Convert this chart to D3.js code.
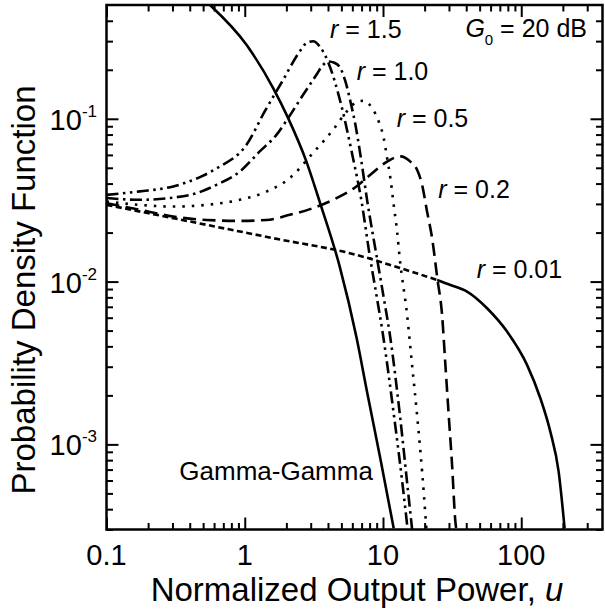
<!DOCTYPE html>
<html>
<head>
<meta charset="utf-8">
<script src="https://cdn.jsdelivr.net/npm/d3@7"></script>
<style>
  body { margin: 0; background: #fff; }
  text { font-family: "Liberation Sans", Arial, sans-serif; fill: #000; }
</style>
</head>
<body>
<script>
// Gamma-Gamma (solid)
var ggU = [0.558, 1.029, 1.605, 2.06, 2.793, 3.485, 4.863, 6.423, 7.67, 9.58, 11.95];
var ggP = [0.502, 0.285, 0.1544, 0.101, 0.0546, 0.0309, 0.01237, 0.00457, 0.0021, 0.000814, 0.000305];

// r = 1.5 (dash-dot-dot)
var r15U = [0.1, 0.1741, 0.3036, 0.4783, 0.6424, 1.029, 1.395, 1.861, 2.499, 2.793, 3.123, 3.485, 4.003, 5.003, 5.998, 7.003, 8.001, 8.989, 10.0, 11.99, 14.0, 15.09];
var r15P = [0.0341, 0.0358, 0.0384, 0.044, 0.0502, 0.0692, 0.1109, 0.1688, 0.2593, 0.2919, 0.2995, 0.2782, 0.224, 0.1202, 0.0601, 0.0309, 0.01459, 0.00817, 0.0047, 0.001516, 0.000524, 0.000298];

// r = 1.0 (dash-dot)
var r10U = [0.1, 0.1741, 0.3036, 0.4474, 0.6243, 0.9203, 1.284, 1.695, 2.06, 2.644, 3.299, 3.645, 4.03, 4.452, 4.92, 5.348, 5.812, 6.317, 6.864, 7.708, 8.96, 10.07, 11.22, 13.25, 15.14, 16.23];
var r10P = [0.0326, 0.0318, 0.0328, 0.0349, 0.0393, 0.0474, 0.063, 0.0797, 0.101, 0.1404, 0.1864, 0.2118, 0.225, 0.2209, 0.2049, 0.1696, 0.1278, 0.0918, 0.0601, 0.0309, 0.01459, 0.00817, 0.0047, 0.001516, 0.000524, 0.000302];

// r = 0.5 (dotted)
var r05U = [0.1, 0.1741, 0.3036, 0.5285, 0.9203, 1.435, 2.116, 3.123, 4.358, 5.483, 6.497, 7.251, 8.341, 9.309, 10.12, 10.71, 11.31, 11.95, 12.65, 13.21, 14.94, 16.23, 17.64, 19.18, 20.59];
var r05P = [0.031, 0.0296, 0.0289, 0.0296, 0.0318, 0.0357, 0.0432, 0.0618, 0.0856, 0.1112, 0.1272, 0.129, 0.1164, 0.0963, 0.0761, 0.0573, 0.0432, 0.0296, 0.0203, 0.01393, 0.00624, 0.00308, 0.001516, 0.00068, 0.000305];

// r = 0.2 (dashed)
var r02U = [0.1, 0.1741, 0.3036, 0.5285, 0.9203, 1.435, 2.116, 3.123, 4.358, 6.077, 8.109, 10.71, 13.36, 15.78, 17.64, 19.18, 20.83, 22.65, 24.74, 26.75, 28.27, 29.87, 31.6, 33.38, 33.9];
var r02P = [0.0303, 0.0276, 0.0251, 0.0239, 0.0236, 0.0239, 0.0257, 0.0283, 0.0318, 0.0371, 0.0453, 0.0546, 0.0588, 0.0546, 0.0486, 0.0393, 0.0269, 0.0185, 0.01039, 0.00624, 0.00308, 0.001516, 0.000747, 0.000335, 0.0003];

// r = 0.01 (short dashes, then solid tail from u = 24.62)
var r001U = [0.1, 0.4002, 1.605, 6.423, 13.36, 24.62, 30.72, 40.56, 56.58, 78.96, 110.1, 137.5, 162.3, 186.4, 205.9];
var r001P = [0.0296, 0.0234, 0.01848, 0.01459, 0.01209, 0.01024, 0.00954, 0.00868, 0.00686, 0.00493, 0.00308, 0.00192, 0.001197, 0.00068, 0.000305];
var r001Break = 24.62;

// axis ticks
var xMajor = [0.1, 1, 10, 100];
var xMajorLabels = ["0.1", "1", "10", "100"];
var yMajor = [1e-3, 1e-2, 1e-1];
var yMajorExp = ["-3", "-2", "-1"];

var width = 605, height = 612;
var mLeft = 106.5, mRight = 602.5, mTop = 5, mBottom = 529.5;

var svg = d3.select("body").append("svg")
  .attr("width", width)
  .attr("height", height);

var x = d3.scaleLog().domain([0.1, 387]).range([mLeft, mRight]);
var y = d3.scaleLog().domain([3e-4, 0.5]).range([mBottom, mTop]);

// minor ticks 2..9 in each decade
var xMinor = [], yMinor = [];
[0.1, 1, 10, 100].forEach(function (d) {
  for (var k = 2; k <= 9; k++) if (d * k < 387) xMinor.push(d * k);
});
[1e-4, 1e-3, 1e-2, 1e-1].forEach(function (d) {
  for (var k = 2; k <= 9; k++) if (d * k > 3e-4 && d * k < 0.5) yMinor.push(d * k);
});

svg.append("clipPath").attr("id", "plotClip")
  .append("rect")
  .attr("x", mLeft).attr("y", mTop)
  .attr("width", mRight - mLeft).attr("height", mBottom - mTop);

// ticks, all pointing inward
function ticks(g, axis, vals, len) {
  g.call(axis.tickValues(vals).tickSize(-len).tickFormat(""));
  g.select(".domain").remove();
  g.selectAll(".tick line").attr("stroke", "#000").attr("stroke-width", 2);
}
[[xMajor, 12], [xMinor, 6.5]].forEach(function (t) {
  svg.append("g").attr("transform", "translate(0," + mBottom + ")").call(ticks, d3.axisBottom(x), t[0], t[1]);
  svg.append("g").attr("transform", "translate(0," + mTop + ")").call(ticks, d3.axisTop(x), t[0], t[1]);
});
[[yMajor, 12], [yMinor, 6.5]].forEach(function (t) {
  svg.append("g").attr("transform", "translate(" + mLeft + ",0)").call(ticks, d3.axisLeft(y), t[0], t[1]);
  svg.append("g").attr("transform", "translate(" + mRight + ",0)").call(ticks, d3.axisRight(y), t[0], t[1]);
});

// tick labels
svg.selectAll(".xlab")
  .data(xMajor)
  .enter()
  .append("text")
  .attr("class", "xlab")
  .attr("x", d => x(d))
  .attr("y", 565)
  .attr("text-anchor", "middle")
  .style("font-size", "29px")
  .text((d, i) => xMajorLabels[i]);

var ylab = svg.selectAll(".ylab")
  .data(yMajor)
  .enter()
  .append("text")
  .attr("class", "ylab")
  .attr("x", 97)
  .attr("y", d => y(d) + 11)
  .attr("text-anchor", "end")
  .style("font-size", "29px");
ylab.append("tspan").text("10");
ylab.append("tspan").attr("dy", -13).style("font-size", "17px").text((d, i) => yMajorExp[i]);

// curves
var line = d3.line()
  .x(d => x(d[0]))
  .y(d => y(d[1]))
  .curve(d3.curveMonotoneX);

function pairs(u, p) { return u.map((d, i) => [d, p[i]]); }

var r001 = pairs(r001U, r001P);
var curves = [
  { pts: pairs(ggU, ggP), dash: null },
  { pts: pairs(r15U, r15P), dash: "12,4.5,2.5,4.5,2.5,4.5" },
  { pts: pairs(r10U, r10P), dash: "12,4.5,2.5,4.5" },
  { pts: pairs(r05U, r05P), dash: "2.5,7" },
  { pts: pairs(r02U, r02P), dash: "13,6.5" },
  { pts: r001.filter(d => d[0] <= r001Break), dash: "6,3.5" },
  { pts: r001.filter(d => d[0] >= r001Break), dash: null }
];

var plot = svg.append("g").attr("clip-path", "url(#plotClip)");
plot.selectAll("path")
  .data(curves)
  .enter()
  .append("path")
  .attr("d", d => line(d.pts))
  .attr("fill", "none")
  .attr("stroke", "#000")
  .attr("stroke-width", 2.6)
  .attr("stroke-dasharray", d => d.dash);

// frame
svg.append("rect")
  .attr("x", mLeft).attr("y", mTop)
  .attr("width", mRight - mLeft).attr("height", mBottom - mTop)
  .attr("fill", "none")
  .attr("stroke", "#000")
  .attr("stroke-width", 2.5);

// curve labels
var rLabels = [
  { t: "1.5", x: 330, y: 38.3 },
  { t: "1.0", x: 356.7, y: 80 },
  { t: "0.5", x: 396.7, y: 126.7 },
  { t: "0.2", x: 438.3, y: 198.3 },
  { t: "0.01", x: 476.7, y: 278.3 }
];
var rl = svg.selectAll(".rlab")
  .data(rLabels)
  .enter()
  .append("text")
  .attr("class", "rlab")
  .attr("x", d => d.x)
  .attr("y", d => d.y)
  .style("font-size", "25px");
rl.append("tspan").style("font-style", "italic").text("r");
rl.append("tspan").text(d => " = " + d.t);

var g0 = svg.append("text")
  .attr("x", 587)
  .attr("y", 36.7)
  .attr("text-anchor", "end")
  .style("font-size", "25px");
g0.append("tspan").style("font-style", "italic").text("G");
g0.append("tspan").attr("dy", 8).style("font-size", "15px").text("0");
g0.append("tspan").attr("dy", -8).text(" = 20 dB");

svg.append("text")
  .attr("x", 179.3)
  .attr("y", 480)
  .style("font-size", "26px")
  .text("Gamma-Gamma");

// axis titles
var xt = svg.append("text")
  .attr("x", 357)
  .attr("y", 601)
  .attr("text-anchor", "middle")
  .style("font-size", "33px");
xt.append("tspan").text("Normalized Output Power, ");
xt.append("tspan").style("font-style", "italic").text("u");

svg.append("text")
  .attr("transform", "translate(35,290) rotate(-90)")
  .attr("text-anchor", "middle")
  .style("font-size", "33px")
  .text("Probability Density Function");
</script>
</body>
</html>
